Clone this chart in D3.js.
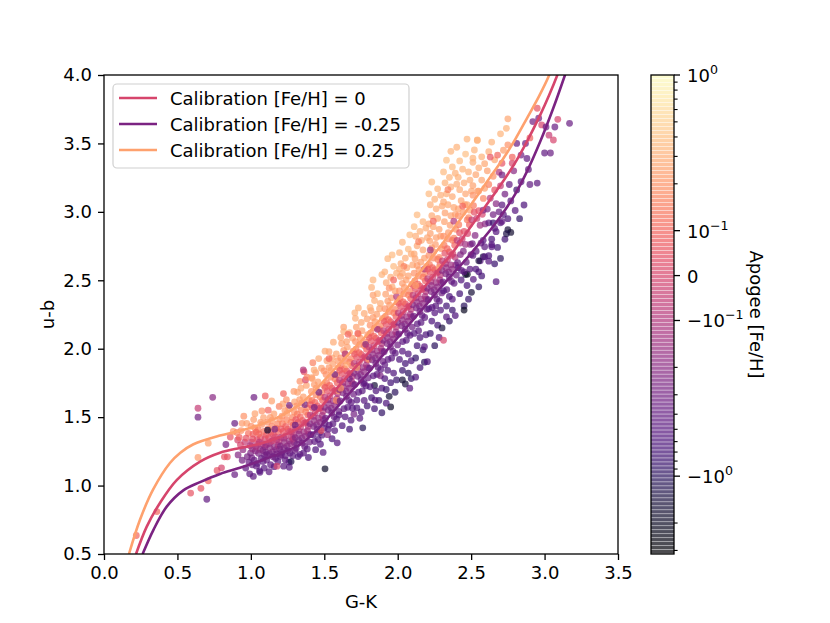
<!DOCTYPE html>
<html>
<head>
<meta charset="utf-8">
<script src="https://cdn.jsdelivr.net/npm/d3@7"></script>
<style>
  body { margin: 0; background: #fff; }
  text { font-family: "DejaVu Sans", sans-serif; }
</style>
</head>
<body>
<svg id="chart" width="830" height="623"></svg>
<script>
// axis ticks
const xTicks = [0, 0.5, 1, 1.5, 2, 2.5, 3, 3.5];
const yTicks = [0.5, 1, 1.5, 2, 2.5, 3, 3.5, 4];
const cbarMajor = [1, 0.1, 0, -0.1, -1];
const cbarMinor = [0.2, 0.3, 0.4, 0.5, 0.6, 0.7, 0.8, 0.9,
  -0.2, -0.3, -0.4, -0.5, -0.6, -0.7, -0.8, -0.9, -2, -3];

// calibration curves, [G-K, u-b]
const calibZero = [[0.218,0.50],[0.291,0.70],[0.381,0.873],[0.495,1.04],[0.654,1.175],[0.79,1.24],
  [0.926,1.275],[1.062,1.305],[1.198,1.355],[1.335,1.43],[1.45,1.54],[1.561,1.68],[1.675,1.82],
  [1.789,1.955],[1.90,2.09],[2.00,2.215],[2.10,2.345],[2.20,2.475],[2.288,2.59],[2.379,2.71],
  [2.47,2.85],[2.56,2.985],[2.64,3.105],[2.719,3.225],[2.80,3.36],[2.878,3.51],[2.969,3.705],
  [3.03,3.85],[3.087,4.0],[3.12,4.1]];
const calibMinus = [[0.263,0.50],[0.336,0.675],[0.427,0.846],[0.54,0.965],[0.654,1.025],[0.79,1.085],
  [0.926,1.13],[1.062,1.18],[1.198,1.235],[1.335,1.30],[1.45,1.405],[1.561,1.54],[1.675,1.68],
  [1.789,1.81],[1.90,1.955],[2.00,2.08],[2.10,2.205],[2.20,2.33],[2.288,2.44],[2.379,2.55],
  [2.47,2.66],[2.56,2.775],[2.64,2.88],[2.719,2.995],[2.80,3.13],[2.878,3.29],[2.969,3.51],
  [3.059,3.757],[3.139,4.0],[3.17,4.1]];
const calibPlus = [[0.17,0.50],[0.245,0.75],[0.334,0.97],[0.449,1.165],[0.52,1.24],[0.606,1.30],
  [0.79,1.365],[0.926,1.40],[1.062,1.445],[1.198,1.505],[1.335,1.595],[1.45,1.71],[1.561,1.84],
  [1.675,1.97],[1.789,2.10],[1.90,2.235],[1.993,2.35],[2.10,2.49],[2.20,2.625],[2.288,2.745],
  [2.379,2.875],[2.47,3.01],[2.56,3.145],[2.64,3.27],[2.719,3.39],[2.80,3.53],[2.878,3.68],
  [2.96,3.84],[3.032,4.0],[3.06,4.08]];
const calibFeh = [0, -0.25, 0.25];
const calibLabels = ["Calibration [Fe/H] = 0", "Calibration [Fe/H] = -0.25", "Calibration [Fe/H] = 0.25"];

// stars, [G-K, u-b, Apogee Fe/H]
const starsOutliers = [[0.64,1.565,-0.05],[0.64,1.50,-0.3],[0.74,1.645,-0.2],[0.70,0.90,-0.4],[0.59,0.945,0.05],
  [0.66,0.98,0.05],[0.71,1.035,0.1],[0.36,0.81,0.1],[0.22,0.635,0.1],[0.64,1.205,0.22],[0.71,1.31,0.25],
  [0.82,1.21,0.05],[0.77,1.11,0.05],[0.83,1.30,-0.3],[0.86,1.355,0.05],[0.89,1.455,-0.35],[0.94,1.455,0.22],
  [0.88,1.395,0.22],[0.91,1.333,0.0],[0.89,1.08,-0.35],[0.80,1.13,0.0],[0.84,1.21,0.05]];
const starsLow = [
  [0.913,1.224,-0.22],[0.958,1.318,-0.05],[0.934,1.402,0.2],[0.987,1.172,-0.35],[0.946,1.262,-0.18],[0.972,1.455,0.24],
  [0.921,1.352,0.08],[0.995,1.291,-0.12],[0.965,1.128,-0.42],[0.941,1.185,-0.3],[0.983,1.382,0.12],[0.952,1.507,0.2],
  [0.998,1.238,-0.25],[0.929,1.298,0.0],[0.976,1.211,-0.28],[0.968,1.347,0.05],[0.992,1.086,-0.45],[0.905,1.388,0.15],
  [1.004,1.318,-0.08],[1.052,1.236,-0.26],[1.027,1.421,0.18],[1.083,1.176,-0.4],[1.011,1.268,-0.15],[1.066,1.352,0.05],
  [1.038,1.142,-0.38],[1.095,1.284,-0.18],[1.019,1.482,0.23],[1.074,1.447,0.2],[1.046,1.301,-0.02],[1.007,1.203,-0.3],
  [1.088,1.395,0.12],[1.031,1.253,-0.2],[1.059,1.108,-0.46],[1.015,1.376,0.08],[1.093,1.221,-0.32],[1.042,1.338,0.02],
  [1.078,1.306,-0.1],[1.023,1.185,-0.34],[1.064,1.264,-0.16],[1.049,1.409,0.15],[1.002,1.434,0.2],[1.086,1.497,0.24],
  [1.035,1.283,-0.12],[1.071,1.198,-0.36],[1.013,1.341,0.04],[1.097,1.343,0.0],[1.056,1.378,0.1],[1.028,1.525,0.25],
  [1.082,1.258,-0.22],[1.044,1.161,-0.4],[1.067,1.462,0.22],[1.009,1.152,-0.38],[1.091,1.128,-0.48],[1.036,1.391,0.1],
  [1.075,1.545,0.2],[1.021,1.645,-0.32],[1.098,1.655,0.08],[1.058,1.318,-0.06],[1.062,1.097,-0.5],[1.017,1.067,-0.45],
  [1.104,1.296,-0.14],[1.153,1.372,0.04],[1.127,1.234,-0.26],[1.182,1.451,0.16],[1.116,1.412,0.12],[1.168,1.198,-0.38],
  [1.139,1.322,-0.06],[1.195,1.268,-0.22],[1.108,1.187,-0.34],[1.176,1.335,-0.02],[1.145,1.478,0.22],[1.121,1.351,0.02],
  [1.188,1.392,0.08],[1.134,1.152,-0.44],[1.161,1.284,-0.16],[1.112,1.463,0.2],[1.199,1.214,-0.34],[1.147,1.246,-0.24],
  [1.173,1.418,0.12],[1.125,1.307,-0.1],[1.157,1.523,0.24],[1.191,1.321,-0.08],[1.102,1.245,-0.26],[1.165,1.356,0.0],
  [1.137,1.392,0.06],[1.184,1.176,-0.42],[1.118,1.551,0.1],[1.151,1.211,-0.32],[1.196,1.486,0.2],[1.129,1.276,-0.18],
  [1.171,1.262,-0.2],[1.143,1.435,0.16],[1.106,1.371,0.06],[1.186,1.297,-0.12],[1.132,1.499,0.23],[1.159,1.138,-0.46],
  [1.114,1.405,-1.6],[1.178,1.142,0.0],[1.124,1.101,-0.45],[1.142,1.618,0.25],[1.193,1.578,0.15],[1.163,1.412,-0.26],
  [1.149,1.328,-0.04],[1.109,1.226,-0.3],[1.175,1.231,-0.28],
  [1.204,1.352,-0.08],[1.251,1.412,0.04],[1.228,1.276,-0.22],[1.283,1.498,0.16],[1.215,1.452,0.14],[1.267,1.238,-0.34],
  [1.239,1.364,-0.04],[1.295,1.315,-0.2],[1.208,1.226,-0.32],[1.276,1.392,0.0],[1.245,1.527,0.22],[1.221,1.396,0.04],
  [1.288,1.441,0.06],[1.234,1.188,-0.42],[1.261,1.326,-0.14],[1.212,1.507,0.2],[1.299,1.258,-0.32],[1.247,1.288,-0.22],
  [1.273,1.462,0.12],[1.225,1.346,-0.1],[1.257,1.568,0.24],[1.291,1.368,-0.08],[1.202,1.288,-0.24],[1.265,1.397,0.0],
  [1.237,1.432,0.08],[1.284,1.218,-0.4],[1.218,1.596,0.25],[1.251,1.256,-0.3],[1.296,1.538,0.2],[1.229,1.316,-0.16],
  [1.271,1.304,-0.18],[1.243,1.479,0.16],[1.206,1.415,0.06],[1.286,1.339,-0.12],[1.232,1.548,0.23],[1.259,1.172,-0.46],
  [1.274,1.175,-1.2],[1.223,1.142,-0.45],[1.262,1.134,-0.5],[1.242,1.628,0.2],[1.222,1.672,0.1],[1.293,1.688,0.22],
  [1.263,1.586,-0.3],[1.279,1.355,-0.06],[1.211,1.243,-0.28],[1.298,1.612,0.25],[1.236,1.218,-0.36],
  [1.304,1.412,-0.06],[1.352,1.476,0.04],[1.327,1.332,-0.22],[1.383,1.568,0.16],[1.316,1.521,0.14],[1.367,1.286,-0.36],
  [1.339,1.428,-0.04],[1.395,1.376,-0.2],[1.308,1.272,-0.32],[1.376,1.462,0.0],[1.345,1.602,0.22],[1.321,1.462,0.04],
  [1.388,1.515,0.08],[1.334,1.228,-0.44],[1.361,1.392,-0.14],[1.312,1.582,0.2],[1.399,1.318,-0.32],[1.347,1.346,-0.24],
  [1.373,1.538,0.14],[1.325,1.402,-0.1],[1.357,1.648,0.24],[1.391,1.432,-0.08],[1.302,1.351,-0.22],[1.365,1.456,0.0],
  [1.337,1.502,0.1],[1.384,1.268,-0.42],[1.318,1.682,0.25],[1.351,1.311,-0.3],[1.396,1.622,0.2],[1.329,1.376,-0.16],
  [1.371,1.362,-0.18],[1.343,1.552,0.16],[1.306,1.481,0.06],[1.386,1.402,-0.12],[1.332,1.627,0.23],[1.359,1.238,-0.46],
  [1.362,1.832,0.05],[1.334,1.762,0.2],[1.378,1.732,0.25],[1.341,1.712,0.26],[1.392,1.205,-0.6],[1.322,1.212,-0.5],
  [1.368,1.592,-0.3],[1.357,1.845,-0.1],[1.372,1.772,0.0],[1.302,1.441,-0.35],[1.382,1.792,0.15],[1.315,1.302,-0.28],
  [1.404,1.516,-0.06],[1.452,1.582,0.04],[1.427,1.432,-0.22],[1.483,1.678,0.16],[1.416,1.622,0.14],[1.467,1.386,-0.36],
  [1.439,1.532,-0.04],[1.495,1.482,-0.2],[1.408,1.372,-0.32],[1.476,1.568,0.0],[1.445,1.712,0.22],[1.421,1.566,0.04],
  [1.488,1.622,0.08],[1.434,1.322,-0.44],[1.461,1.492,-0.14],[1.412,1.688,0.2],[1.499,1.418,-0.32],[1.447,1.446,-0.24],
  [1.473,1.648,0.14],[1.425,1.506,-0.1],[1.457,1.758,0.24],[1.491,1.542,-0.08],[1.402,1.452,-0.22],[1.465,1.562,0.0],
  [1.437,1.608,0.1],[1.484,1.368,-0.42],[1.418,1.782,0.25],[1.451,1.411,-0.3],[1.496,1.732,0.2],[1.429,1.476,-0.16],
  [1.471,1.462,-0.18],[1.443,1.662,0.16],[1.406,1.592,0.06],[1.486,1.512,-0.12],[1.432,1.738,0.23],[1.459,1.338,-0.46],
  [1.442,1.825,0.25],[1.422,1.898,0.15],[1.462,1.928,0.28],[1.481,1.858,0.25],[1.505,1.122,-1.8],[1.441,1.262,-0.6],
  [1.492,1.242,-0.5],[1.463,1.682,-0.3],[1.432,1.572,-0.3],[1.498,1.838,0.2],[1.478,1.402,0.05],[1.431,1.845,0.28],
  [1.425,1.372,-0.45],[1.474,1.302,-0.5],[1.414,1.788,0.25]];
const starsMid = [
  [1.504,1.646,-0.06],[1.552,1.712,0.04],[1.527,1.552,-0.22],[1.583,1.808,0.16],[1.516,1.752,0.14],[1.567,1.502,-0.36],
  [1.539,1.656,-0.04],[1.595,1.612,-0.2],[1.508,1.492,-0.32],[1.576,1.698,0.0],[1.545,1.842,0.22],[1.521,1.692,0.04],
  [1.588,1.752,0.08],[1.534,1.442,-0.44],[1.561,1.618,-0.14],[1.512,1.812,0.2],[1.599,1.542,-0.32],[1.547,1.566,-0.24],
  [1.573,1.778,0.14],[1.525,1.628,-0.1],[1.557,1.888,0.24],[1.591,1.672,-0.08],[1.502,1.572,-0.22],[1.565,1.688,0.0],
  [1.537,1.732,0.1],[1.584,1.488,-0.42],[1.518,1.912,0.25],[1.551,1.531,-0.3],[1.596,1.862,0.2],[1.529,1.598,-0.16],
  [1.571,1.586,-0.18],[1.543,1.792,0.16],[1.506,1.718,0.06],[1.586,1.636,-0.12],[1.532,1.862,0.23],[1.559,1.452,-0.46],
  [1.562,2.048,0.28],[1.532,1.978,0.25],[1.582,1.962,0.26],[1.553,1.932,0.25],[1.592,1.912,0.22],[1.553,1.342,-0.6],
  [1.588,1.312,-0.5],[1.532,1.928,0.1],[1.572,1.812,-0.3],[1.598,1.692,0.25],[1.522,1.372,-0.2],[1.582,1.622,0.2],
  [1.505,1.982,0.28],[1.601,1.516,-0.45],[1.505,1.455,-0.4],[1.571,1.402,-0.5],[1.527,1.412,-0.45],
  [1.604,1.772,-0.06],[1.652,1.838,0.04],[1.627,1.678,-0.22],[1.683,1.928,0.16],[1.616,1.876,0.14],[1.667,1.622,-0.36],
  [1.639,1.782,-0.04],[1.695,1.742,-0.2],[1.608,1.618,-0.32],[1.676,1.822,0.0],[1.645,1.958,0.22],[1.621,1.818,0.04],
  [1.688,1.876,0.08],[1.634,1.562,-0.44],[1.661,1.742,-0.14],[1.612,1.932,0.2],[1.699,1.668,-0.32],[1.647,1.692,-0.24],
  [1.673,1.902,0.14],[1.625,1.752,-0.1],[1.657,2.012,0.24],[1.691,1.798,-0.08],[1.602,1.702,-0.22],[1.665,1.812,0.0],
  [1.637,1.852,0.1],[1.684,1.608,-0.42],[1.618,2.038,0.25],[1.651,1.652,-0.3],[1.696,1.982,0.2],[1.629,1.722,-0.16],
  [1.671,1.712,-0.18],[1.643,1.912,0.16],[1.606,1.842,0.06],[1.686,1.762,-0.12],[1.632,1.988,0.23],[1.659,1.572,-0.46],
  [1.632,2.158,0.25],[1.672,2.118,0.28],[1.612,2.082,0.26],[1.652,2.052,0.25],[1.692,2.078,0.24],[1.642,1.502,-0.5],
  [1.682,1.478,-0.55],[1.622,1.438,-0.6],[1.672,1.412,-0.7],[1.642,1.962,-0.1],[1.671,1.782,-0.3],[1.612,1.712,0.2],
  [1.652,1.882,0.28],[1.702,1.522,-0.3],[1.632,2.125,0.31],[1.692,1.565,-0.5],[1.662,2.105,0.1],
  [1.704,1.892,-0.06],[1.752,1.958,0.04],[1.727,1.798,-0.22],[1.783,2.048,0.16],[1.716,1.996,0.14],[1.767,1.742,-0.36],
  [1.739,1.902,-0.04],[1.795,1.862,-0.2],[1.708,1.738,-0.32],[1.776,1.942,0.0],[1.745,2.078,0.22],[1.721,1.938,0.04],
  [1.788,1.996,0.08],[1.734,1.682,-0.44],[1.761,1.862,-0.14],[1.712,2.052,0.2],[1.799,1.788,-0.32],[1.747,1.812,-0.24],
  [1.773,2.022,0.14],[1.725,1.872,-0.1],[1.757,2.132,0.24],[1.791,1.918,-0.08],[1.702,1.822,-0.22],[1.765,1.932,0.0],
  [1.737,1.972,0.1],[1.784,1.728,-0.42],[1.718,2.158,0.25],[1.751,1.772,-0.3],[1.796,2.102,0.2],[1.729,1.842,-0.16],
  [1.771,1.832,-0.18],[1.743,2.032,0.16],[1.706,1.962,0.06],[1.786,1.882,-0.12],[1.732,2.108,0.23],[1.759,1.692,-0.46],
  [1.732,2.298,0.31],[1.772,2.258,0.28],[1.712,2.222,0.3],[1.752,2.192,0.26],[1.792,2.218,0.25],[1.722,1.568,-0.55],
  [1.752,1.538,-0.6],[1.792,1.582,-0.7],[1.762,1.422,-1.1],[1.742,1.492,-0.5],[1.782,2.032,-0.2],[1.722,1.862,0.25],
  [1.772,1.752,-0.4],[1.802,1.922,0.2],[1.728,2.112,0.1],[1.722,1.625,-0.5],[1.772,1.622,-0.5],[1.708,2.262,0.31],
  [1.804,2.012,-0.06],[1.852,2.078,0.04],[1.827,1.918,-0.22],[1.883,2.168,0.16],[1.816,2.116,0.14],[1.867,1.862,-0.36],
  [1.839,2.022,-0.04],[1.895,1.982,-0.2],[1.808,1.858,-0.32],[1.876,2.062,0.0],[1.845,2.198,0.22],[1.821,2.058,0.04],
  [1.888,2.116,0.08],[1.834,1.802,-0.44],[1.861,1.982,-0.14],[1.812,2.172,0.2],[1.899,1.908,-0.32],[1.847,1.932,-0.24],
  [1.873,2.142,0.14],[1.825,1.992,-0.1],[1.857,2.252,0.24],[1.891,2.038,-0.08],[1.802,1.942,-0.22],[1.865,2.052,0.0],
  [1.837,2.092,0.1],[1.884,1.848,-0.42],[1.818,2.278,0.25],[1.851,1.892,-0.3],[1.896,2.222,0.2],[1.829,1.962,-0.16],
  [1.871,1.952,-0.18],[1.843,2.152,0.16],[1.806,2.082,0.06],[1.886,2.002,-0.12],[1.832,2.228,0.23],[1.859,1.812,-0.46],
  [1.822,2.448,0.31],[1.862,2.402,0.33],[1.842,2.352,0.3],[1.882,2.332,0.28],[1.812,2.302,0.3],[1.842,1.732,-1.5],
  [1.822,1.642,-0.7],[1.872,1.622,-0.8],[1.842,1.562,-0.7],[1.892,1.532,-0.9],[1.862,2.142,-0.15],[1.832,2.392,0.25],
  [1.882,1.802,-0.25],[1.832,2.502,0.33],[1.892,2.542,0.33],[1.845,1.625,-0.5],[1.812,1.722,-0.5],[1.852,1.692,-0.6],
  [1.892,1.712,-0.6],[1.876,2.292,0.26],
  [1.904,2.132,-0.06],[1.952,2.198,0.04],[1.927,2.038,-0.22],[1.983,2.288,0.16],[1.916,2.236,0.14],[1.967,1.982,-0.36],
  [1.939,2.142,-0.04],[1.995,2.102,-0.2],[1.908,1.978,-0.32],[1.976,2.182,0.0],[1.945,2.318,0.22],[1.921,2.178,0.04],
  [1.988,2.236,0.08],[1.934,1.922,-0.44],[1.961,2.102,-0.14],[1.912,2.292,0.2],[1.999,2.028,-0.32],[1.947,2.052,-0.24],
  [1.973,2.262,0.14],[1.925,2.112,-0.1],[1.957,2.372,0.24],[1.991,2.158,-0.08],[1.902,2.062,-0.22],[1.965,2.172,0.0],
  [1.937,2.212,0.1],[1.984,1.968,-0.42],[1.918,2.398,0.25],[1.951,2.012,-0.3],[1.996,2.342,0.2],[1.929,2.082,-0.16],
  [1.971,2.072,-0.18],[1.943,2.272,0.16],[1.906,2.202,0.06],[1.986,2.122,-0.12],[1.932,2.348,0.23],[1.959,1.932,-0.46],
  [1.932,2.658,0.33],[1.972,2.602,0.35],[1.912,2.562,0.31],[1.952,2.522,0.29],[1.992,2.552,0.3],[1.922,2.482,0.28],
  [1.962,2.452,0.28],[1.942,1.652,-1.6],[1.952,1.575,-1.9],[1.922,1.702,-0.8],[1.982,1.682,-1.0],[1.972,2.502,0.1],
  [1.942,2.442,0.2],[1.992,2.382,-0.1],[1.922,1.602,-0.6],[1.962,2.685,0.35],[1.932,1.842,-0.55],[1.972,1.822,-0.6],
  [1.912,1.782,-0.6],[1.952,1.752,-0.7],[1.992,1.772,-0.8],[1.982,2.422,0.25],[1.912,1.882,-0.4],
  [2.004,2.262,-0.06],[2.052,2.328,0.04],[2.027,2.168,-0.22],[2.083,2.418,0.16],[2.016,2.366,0.14],[2.067,2.112,-0.36],
  [2.039,2.272,-0.04],[2.095,2.232,-0.2],[2.008,2.108,-0.32],[2.076,2.312,0.0],[2.045,2.448,0.22],[2.021,2.308,0.04],
  [2.088,2.366,0.08],[2.034,2.052,-0.44],[2.061,2.232,-0.14],[2.012,2.422,0.2],[2.099,2.158,-0.32],[2.047,2.182,-0.24],
  [2.073,2.392,0.14],[2.025,2.242,-0.1],[2.057,2.502,0.24],[2.091,2.288,-0.08],[2.002,2.192,-0.22],[2.065,2.302,0.0],
  [2.037,2.342,0.1],[2.084,2.098,-0.42],[2.018,2.528,0.25],[2.051,2.142,-0.3],[2.096,2.472,0.2],[2.029,2.212,-0.16],
  [2.071,2.202,-0.18],[2.043,2.402,0.16],[2.006,2.332,0.06],[2.086,2.252,-0.12],[2.032,2.478,0.23],[2.059,2.062,-0.46],
  [2.032,2.778,0.33],[2.072,2.728,0.35],[2.012,2.702,0.33],[2.052,2.662,0.3],[2.092,2.692,0.29],[2.022,2.622,0.28],
  [2.062,2.592,0.27],[2.102,2.612,0.26],[2.032,2.552,0.26],[2.072,2.532,0.25],[2.032,1.982,-0.5],[2.072,1.962,-0.55],
  [2.012,1.922,-0.6],[2.052,1.892,-0.7],[2.092,1.912,-0.6],[2.032,1.842,-0.8],[2.072,1.822,-1.0],[2.052,1.742,-1.4],
  [2.092,1.782,-0.9],[2.042,2.602,0.15],[2.082,2.832,0.35],[2.032,1.772,-1.5],[2.082,1.712,-0.5],[2.012,2.582,0.29]];
const starsHigh = [
  [2.104,2.392,-0.06],[2.152,2.458,0.04],[2.127,2.298,-0.22],[2.183,2.548,0.16],[2.116,2.496,0.14],[2.167,2.242,-0.36],
  [2.139,2.402,-0.04],[2.195,2.362,-0.2],[2.108,2.238,-0.32],[2.176,2.442,0.0],[2.145,2.578,0.22],[2.121,2.438,0.04],
  [2.188,2.496,0.08],[2.134,2.182,-0.44],[2.161,2.362,-0.14],[2.112,2.552,0.2],[2.199,2.288,-0.32],[2.147,2.312,-0.24],
  [2.173,2.522,0.14],[2.125,2.372,-0.1],[2.157,2.632,0.24],[2.191,2.418,-0.08],[2.102,2.322,-0.22],[2.165,2.432,0.0],
  [2.137,2.472,0.1],[2.184,2.228,-0.42],[2.118,2.658,0.25],[2.151,2.272,-0.3],[2.196,2.602,0.2],[2.129,2.342,-0.16],
  [2.171,2.332,-0.18],[2.143,2.532,0.16],[2.106,2.462,0.06],[2.186,2.382,-0.12],[2.132,2.608,0.23],[2.159,2.192,-0.46],
  [2.132,2.978,0.35],[2.172,2.928,0.33],[2.112,2.892,0.35],[2.152,2.858,0.31],[2.192,2.882,0.29],[2.122,2.822,0.3],
  [2.162,2.792,0.28],[2.202,2.812,0.27],[2.132,2.752,0.27],[2.172,2.722,0.26],[2.112,2.692,0.27],[2.182,2.662,0.25],
  [2.112,2.112,-0.5],[2.152,2.082,-0.6],[2.192,2.102,-0.55],[2.132,2.022,-0.7],[2.172,1.992,-0.8],[2.122,1.932,-0.9],
  [2.182,1.902,-1.0],[2.152,1.862,-0.7],[2.142,2.782,0.15],[2.182,2.582,-0.1],[2.122,2.462,0.25],[2.122,1.792,-0.6],
  [2.202,1.905,-0.6],[2.182,2.015,-0.5],[2.142,2.132,-0.45],
  [2.204,2.512,-0.06],[2.252,2.578,0.04],[2.227,2.418,-0.22],[2.283,2.668,0.16],[2.216,2.616,0.14],[2.267,2.362,-0.36],
  [2.239,2.522,-0.04],[2.295,2.482,-0.2],[2.208,2.358,-0.32],[2.276,2.562,0.0],[2.245,2.708,0.22],[2.221,2.558,0.04],
  [2.288,2.616,0.08],[2.234,2.302,-0.44],[2.261,2.482,-0.14],[2.212,2.682,0.2],[2.299,2.408,-0.32],[2.247,2.432,-0.24],
  [2.273,2.652,0.14],[2.225,2.492,-0.1],[2.257,2.762,0.24],[2.291,2.538,-0.08],[2.202,2.442,-0.22],[2.265,2.552,0.0],
  [2.237,2.592,0.1],[2.284,2.348,-0.42],[2.218,2.788,0.25],[2.251,2.392,-0.3],[2.296,2.732,0.2],[2.229,2.462,-0.16],
  [2.271,2.452,-0.18],[2.243,2.662,0.16],[2.206,2.582,0.06],[2.286,2.502,-0.12],[2.232,2.738,0.23],[2.259,2.312,-0.46],
  [2.232,3.218,0.35],[2.272,3.168,0.33],[2.212,3.132,0.35],[2.252,3.092,0.31],[2.292,3.122,0.3],[2.222,3.052,0.3],
  [2.262,3.022,0.29],[2.302,3.042,0.27],[2.232,2.972,0.28],[2.272,2.952,0.27],[2.212,2.912,0.27],[2.242,2.892,0.26],
  [2.282,2.872,0.25],[2.222,2.842,0.25],[2.262,2.812,0.24],[2.292,2.822,0.24],[2.232,2.202,-0.6],[2.272,2.172,-0.7],
  [2.222,2.112,-0.8],[2.282,2.082,-0.6],[2.252,2.022,-1.0],[2.242,2.932,0.1],[2.282,2.592,0.25],[2.222,2.722,-0.15],
  [2.302,2.152,-1.4],[2.312,2.062,0.0],[2.212,2.292,-0.5],[2.252,2.262,-0.5],[2.292,2.282,-0.55],
  [2.304,2.642,-0.06],[2.352,2.708,0.04],[2.327,2.548,-0.22],[2.383,2.808,0.16],[2.316,2.756,0.14],[2.367,2.492,-0.36],
  [2.339,2.652,-0.04],[2.395,2.612,-0.2],[2.308,2.488,-0.32],[2.376,2.692,0.0],[2.345,2.848,0.22],[2.321,2.698,0.04],
  [2.388,2.756,0.08],[2.334,2.432,-0.44],[2.361,2.612,-0.14],[2.312,2.822,0.2],[2.399,2.538,-0.32],[2.347,2.562,-0.24],
  [2.373,2.792,0.14],[2.325,2.622,-0.1],[2.357,2.902,0.24],[2.391,2.668,-0.08],[2.302,2.572,-0.22],[2.365,2.682,0.0],
  [2.337,2.732,0.1],[2.384,2.478,-0.42],[2.318,2.928,0.25],[2.351,2.522,-0.3],[2.396,2.872,0.2],[2.329,2.592,-0.16],
  [2.371,2.582,-0.18],[2.343,2.802,0.16],[2.332,3.378,0.38],[2.372,3.328,0.35],[2.312,3.292,0.35],[2.352,3.252,0.33],
  [2.392,3.282,0.31],[2.322,3.212,0.31],[2.362,3.182,0.3],[2.402,3.202,0.29],[2.332,3.132,0.29],[2.372,3.112,0.28],
  [2.312,3.072,0.27],[2.342,3.052,0.27],[2.382,3.032,0.26],[2.322,2.992,0.25],[2.362,2.972,0.25],[2.392,2.982,0.24],
  [2.332,2.312,-0.7],[2.372,2.282,-0.8],[2.352,2.202,-0.9],[2.392,2.242,-0.6],[2.342,3.162,0.15],[2.382,2.932,-0.1],
  [2.362,3.442,0.33],[2.402,3.472,0.31],[2.372,2.362,-0.5],[2.332,2.232,-0.5],[2.312,2.422,-0.5],[2.352,2.382,-0.6],
  [2.404,2.792,-0.06],[2.452,2.858,0.04],[2.427,2.688,-0.22],[2.483,2.958,0.16],[2.416,2.906,0.14],[2.467,2.632,-0.36],
  [2.439,2.802,-0.04],[2.495,2.762,-0.2],[2.408,2.628,-0.32],[2.476,2.842,0.0],[2.445,2.998,0.22],[2.421,2.848,0.04],
  [2.488,2.906,0.08],[2.434,2.572,-0.44],[2.461,2.762,-0.14],[2.412,2.972,0.2],[2.499,2.688,-0.32],[2.447,2.712,-0.24],
  [2.473,2.942,0.14],[2.425,2.772,-0.1],[2.457,3.052,0.24],[2.422,3.372,0.35],[2.462,3.422,0.38],[2.442,3.312,0.33],
  [2.482,3.292,0.31],[2.412,3.252,0.31],[2.452,3.212,0.3],[2.492,3.232,0.29],[2.422,3.162,0.29],[2.462,3.132,0.27],
  [2.502,3.152,0.26],[2.432,3.082,0.26],[2.472,3.052,0.25],[2.412,3.022,0.25],[2.492,3.012,0.24],[2.432,2.502,-0.55],
  [2.472,2.462,-0.65],[2.422,2.402,-0.7],[2.482,2.362,-0.8],[2.452,2.312,-1.0],[2.442,3.042,0.1],[2.472,3.532,0.33],
  [2.462,2.542,-1.6],[2.452,2.282,-2.0],[2.474,2.545,-2.0],[2.412,2.592,-0.4],[2.452,2.562,-0.45],[2.492,2.582,-0.5],
  [2.504,2.942,-0.06],[2.552,3.008,0.04],[2.527,2.828,-0.22],[2.583,3.098,0.16],[2.516,3.046,0.14],[2.567,2.772,-0.36],
  [2.539,2.952,-0.04],[2.595,2.912,-0.2],[2.508,2.768,-0.32],[2.576,2.982,0.0],[2.545,3.152,0.22],[2.521,2.998,0.04],
  [2.534,2.712,-0.44],[2.561,2.902,-0.14],[2.512,3.122,0.2],[2.542,3.522,0.33],[2.522,3.452,0.33],[2.572,3.402,0.31],
  [2.512,3.362,0.3],[2.552,3.322,0.29],[2.592,3.352,0.27],[2.532,3.272,0.27],[2.572,3.232,0.26],[2.512,3.192,0.25],
  [2.552,3.152,0.25],[2.592,3.172,0.24],[2.532,2.582,-0.6],[2.572,2.532,-0.7],[2.552,2.452,-0.9],[2.582,3.012,-0.2],
  [2.582,2.672,-1.3],[2.562,2.642,-0.5],[2.552,2.562,-0.6],[2.582,2.792,-0.5],[2.592,2.745,-0.45],[2.515,2.507,-0.5],
  [2.502,2.412,-1.5],[2.512,3.392,0.33],[2.542,3.525,0.31],[2.512,2.682,-0.45],[2.552,2.642,-1.4],[2.592,2.672,-0.5]];
const starsTail = [
  [2.64,3.51,0.31],[2.70,3.57,0.33],[2.62,3.44,0.29],[2.66,3.38,0.26],[2.63,3.40,0.05],[2.68,3.415,0.1],
  [2.61,3.30,0.24],[2.65,3.26,0.2],[2.69,3.29,-0.1],[2.62,3.20,0.15],[2.66,3.16,0.05],[2.70,3.19,-0.05],
  [2.63,3.10,-0.1],[2.67,3.06,-0.2],[2.61,3.02,-0.25],[2.65,2.98,-0.3],[2.69,3.00,-0.35],[2.62,2.92,-0.4],
  [2.66,2.88,-0.45],[2.70,2.92,-0.5],[2.64,2.80,-0.6],[2.68,2.74,-0.7],[2.62,2.68,-0.6],[2.66,2.62,-0.8],
  [2.70,2.66,-1.0],[2.65,2.92,-0.8],[2.64,2.76,-0.5],[2.62,2.64,-0.5],[2.67,2.855,-0.5],[2.64,2.745,-0.5],
  [2.67,2.49,-0.5],
  [2.75,3.49,0.2],[2.78,3.355,0.0],[2.71,3.355,0.05],[2.71,3.27,-0.3],[2.75,3.68,0.26],[2.74,3.61,0.31],
  [2.72,3.45,0.24],[2.76,3.20,-0.4],[2.73,3.13,-0.3],[2.77,3.08,-0.5],[2.71,3.05,-0.45],[2.75,2.95,-0.6],
  [2.71,2.93,-0.4],[2.75,2.87,-1.5],[2.77,2.85,-1.7],[2.79,3.30,-0.2],[2.73,2.80,-0.7],[2.78,3.40,0.1],
  [2.74,2.84,-1.3],[2.72,2.98,-0.5],
  [2.81,3.50,-0.35],[2.87,3.50,-0.35],[2.84,3.415,-0.3],[2.88,3.39,-0.4],[2.89,3.31,-0.45],[2.84,3.22,-0.5],
  [2.81,3.16,-0.8],[2.80,3.01,-0.5],[2.90,3.54,0.1],[2.92,3.66,-0.3],[2.96,3.684,-0.3],[2.98,3.635,0.0],
  [2.95,3.757,0.05],[3.01,3.62,-0.35],[3.07,3.62,-0.35],[3.09,3.676,0.0],[3.17,3.647,-0.35],[3.03,3.56,-0.05],
  [3.06,3.525,0.0],[3.00,3.43,-0.4],[3.04,3.43,-0.35],[2.95,3.21,-0.45],[2.90,3.20,-0.4],[2.83,2.95,-0.9],
  [2.86,3.05,-0.6]];

const plot = { left: 104, right: 618, top: 75, bottom: 554 };
const cbar = { left: 651, right: 674 };

const svg = d3.select("#chart");

const x = d3.scaleLinear().domain([0, 3.5]).range([plot.left, plot.right]);
const y = d3.scaleLinear().domain([0.5, 4]).range([plot.bottom, plot.top]);

// symlog like matplotlib (linthresh 0.1), measured in decades
const linThresh = 0.1, linPart = 0.2885;
function symlog(v) {
    const a = Math.abs(v);
    if (a <= linThresh) return v / linThresh * linPart;
    return Math.sign(v) * (linPart + Math.log10(a / linThresh));
}
const fehMin = -Math.pow(10, 0.5), fehMax = 1;
const norm = d3.scaleLinear().domain([symlog(fehMin), symlog(fehMax)]).range([0, 1]).clamp(true);
const colour = v => d3.interpolateMagma(norm(symlog(v)));
const cy = d3.scaleLinear().domain([symlog(fehMin), symlog(fehMax)]).range([plot.bottom, plot.top]);

svg.append("defs").append("clipPath").attr("id", "plotClip")
    .append("rect")
    .attr("x", plot.left).attr("y", plot.top)
    .attr("width", plot.right - plot.left).attr("height", plot.bottom - plot.top);

// scatter
const stars = starsOutliers.concat(starsLow, starsMid, starsHigh, starsTail);
svg.append("g").attr("clip-path", "url(#plotClip)")
    .selectAll("circle")
    .data(stars)
    .join("circle")
    .attr("cx", d => x(d[0]))
    .attr("cy", d => y(d[1]))
    .attr("r", 3.4)
    .attr("fill", d => colour(d[2]))
    .attr("fill-opacity", 0.7);

// calibration lines
const line = d3.line()
    .x(d => x(d[0]))
    .y(d => y(d[1]))
    .curve(d3.curveCatmullRom.alpha(0.5));
const calibSets = [calibZero, calibMinus, calibPlus];
svg.append("g").attr("clip-path", "url(#plotClip)")
    .selectAll("path")
    .data(calibSets)
    .join("path")
    .attr("d", line)
    .attr("fill", "none")
    .attr("stroke", (d, i) => colour(calibFeh[i]))
    .attr("stroke-width", 2.6);

// axes
const xAxis = d3.axisBottom(x).tickValues(xTicks).tickFormat(d3.format(".1f")).tickSize(6).tickPadding(6);
const yAxis = d3.axisLeft(y).tickValues(yTicks).tickFormat(d3.format(".1f")).tickSize(6).tickPadding(6);

const gx = svg.append("g").attr("transform", `translate(0,${plot.bottom})`).call(xAxis);
const gy = svg.append("g").attr("transform", `translate(${plot.left},0)`).call(yAxis);
[gx, gy].forEach(g => {
    g.select(".domain").remove();
    g.selectAll(".tick line").attr("stroke", "#000").attr("stroke-width", 1.3);
    g.selectAll(".tick text").attr("fill", "#000").attr("font-size", 18)
        .attr("font-family", "DejaVu Sans, sans-serif");
});

svg.append("rect")
    .attr("x", plot.left).attr("y", plot.top)
    .attr("width", plot.right - plot.left).attr("height", plot.bottom - plot.top)
    .attr("fill", "none").attr("stroke", "#000").attr("stroke-width", 1.3);

svg.append("text")
    .attr("x", (plot.left + plot.right) / 2).attr("y", 608)
    .attr("text-anchor", "middle").attr("font-size", 18)
    .text("G-K");
svg.append("text")
    .attr("transform", `translate(54,${(plot.top + plot.bottom) / 2}) rotate(-90)`)
    .attr("text-anchor", "middle").attr("font-size", 18)
    .text("u-b");

// legend
const legend = svg.append("g");
legend.append("rect")
    .attr("x", 113).attr("y", 84).attr("width", 296).attr("height", 84)
    .attr("rx", 4).attr("ry", 4)
    .attr("fill", "#fff").attr("fill-opacity", 0.8)
    .attr("stroke", "#d0d0d0").attr("stroke-width", 1.2);
const legendRows = [0, 1, 2].map(i => ({ label: calibLabels[i], feh: calibFeh[i], yy: 98 + i * 26 }));
legend.selectAll("line")
    .data(legendRows)
    .join("line")
    .attr("x1", 119).attr("x2", 157)
    .attr("y1", d => d.yy).attr("y2", d => d.yy)
    .attr("stroke", d => colour(d.feh)).attr("stroke-width", 2.6);
legend.selectAll("text")
    .data(legendRows)
    .join("text")
    .attr("x", 170).attr("y", d => d.yy + 6.5)
    .attr("font-size", 18)
    .text(d => d.label);

// colorbar
const nStrips = 120;
const strips = d3.range(nStrips).map(i => {
    const t0 = i / nStrips, t1 = (i + 1) / nStrips;
    return { t: (t0 + t1) / 2, y0: plot.bottom - t1 * (plot.bottom - plot.top), y1: plot.bottom - t0 * (plot.bottom - plot.top) };
});
svg.append("g")
    .selectAll("rect")
    .data(strips)
    .join("rect")
    .attr("x", cbar.left).attr("width", cbar.right - cbar.left)
    .attr("y", d => d.y0).attr("height", d => d.y1 - d.y0 - 0.5)
    .attr("fill", d => d3.interpolateMagma(d.t))
    .attr("fill-opacity", 0.7);
svg.append("rect")
    .attr("x", cbar.left).attr("y", plot.top)
    .attr("width", cbar.right - cbar.left).attr("height", plot.bottom - plot.top)
    .attr("fill", "none").attr("stroke", "#000").attr("stroke-width", 1.3);

svg.append("g").selectAll("line")
    .data(cbarMinor)
    .join("line")
    .attr("x1", cbar.right).attr("x2", cbar.right + 3.6)
    .attr("y1", d => cy(symlog(d))).attr("y2", d => cy(symlog(d)))
    .attr("stroke", "#000").attr("stroke-width", 1.1);
svg.append("g").selectAll("line")
    .data(cbarMajor)
    .join("line")
    .attr("x1", cbar.right).attr("x2", cbar.right + 6)
    .attr("y1", d => cy(symlog(d))).attr("y2", d => cy(symlog(d)))
    .attr("stroke", "#000").attr("stroke-width", 1.3);

const cbarText = svg.append("g").selectAll("text")
    .data(cbarMajor)
    .join("text")
    .attr("x", cbar.right + 13)
    .attr("y", d => cy(symlog(d)) + 7)
    .attr("font-size", 18);
cbarText.each(function(d) {
    const t = d3.select(this);
    if (d === 0) { t.text("0"); return; }
    const exp = Math.round(Math.log10(Math.abs(d)));
    t.append("tspan").text((d < 0 ? "\u2212" : "") + "10");
    t.append("tspan")
        .attr("font-size", 12.6).attr("dy", -8)
        .text(exp < 0 ? "\u2212" + Math.abs(exp) : String(exp));
});

svg.append("text")
    .attr("transform", `translate(750,${(plot.top + plot.bottom) / 2}) rotate(90)`)
    .attr("text-anchor", "middle").attr("font-size", 18)
    .text("Apogee [Fe/H]");
</script>
</body>
</html>
